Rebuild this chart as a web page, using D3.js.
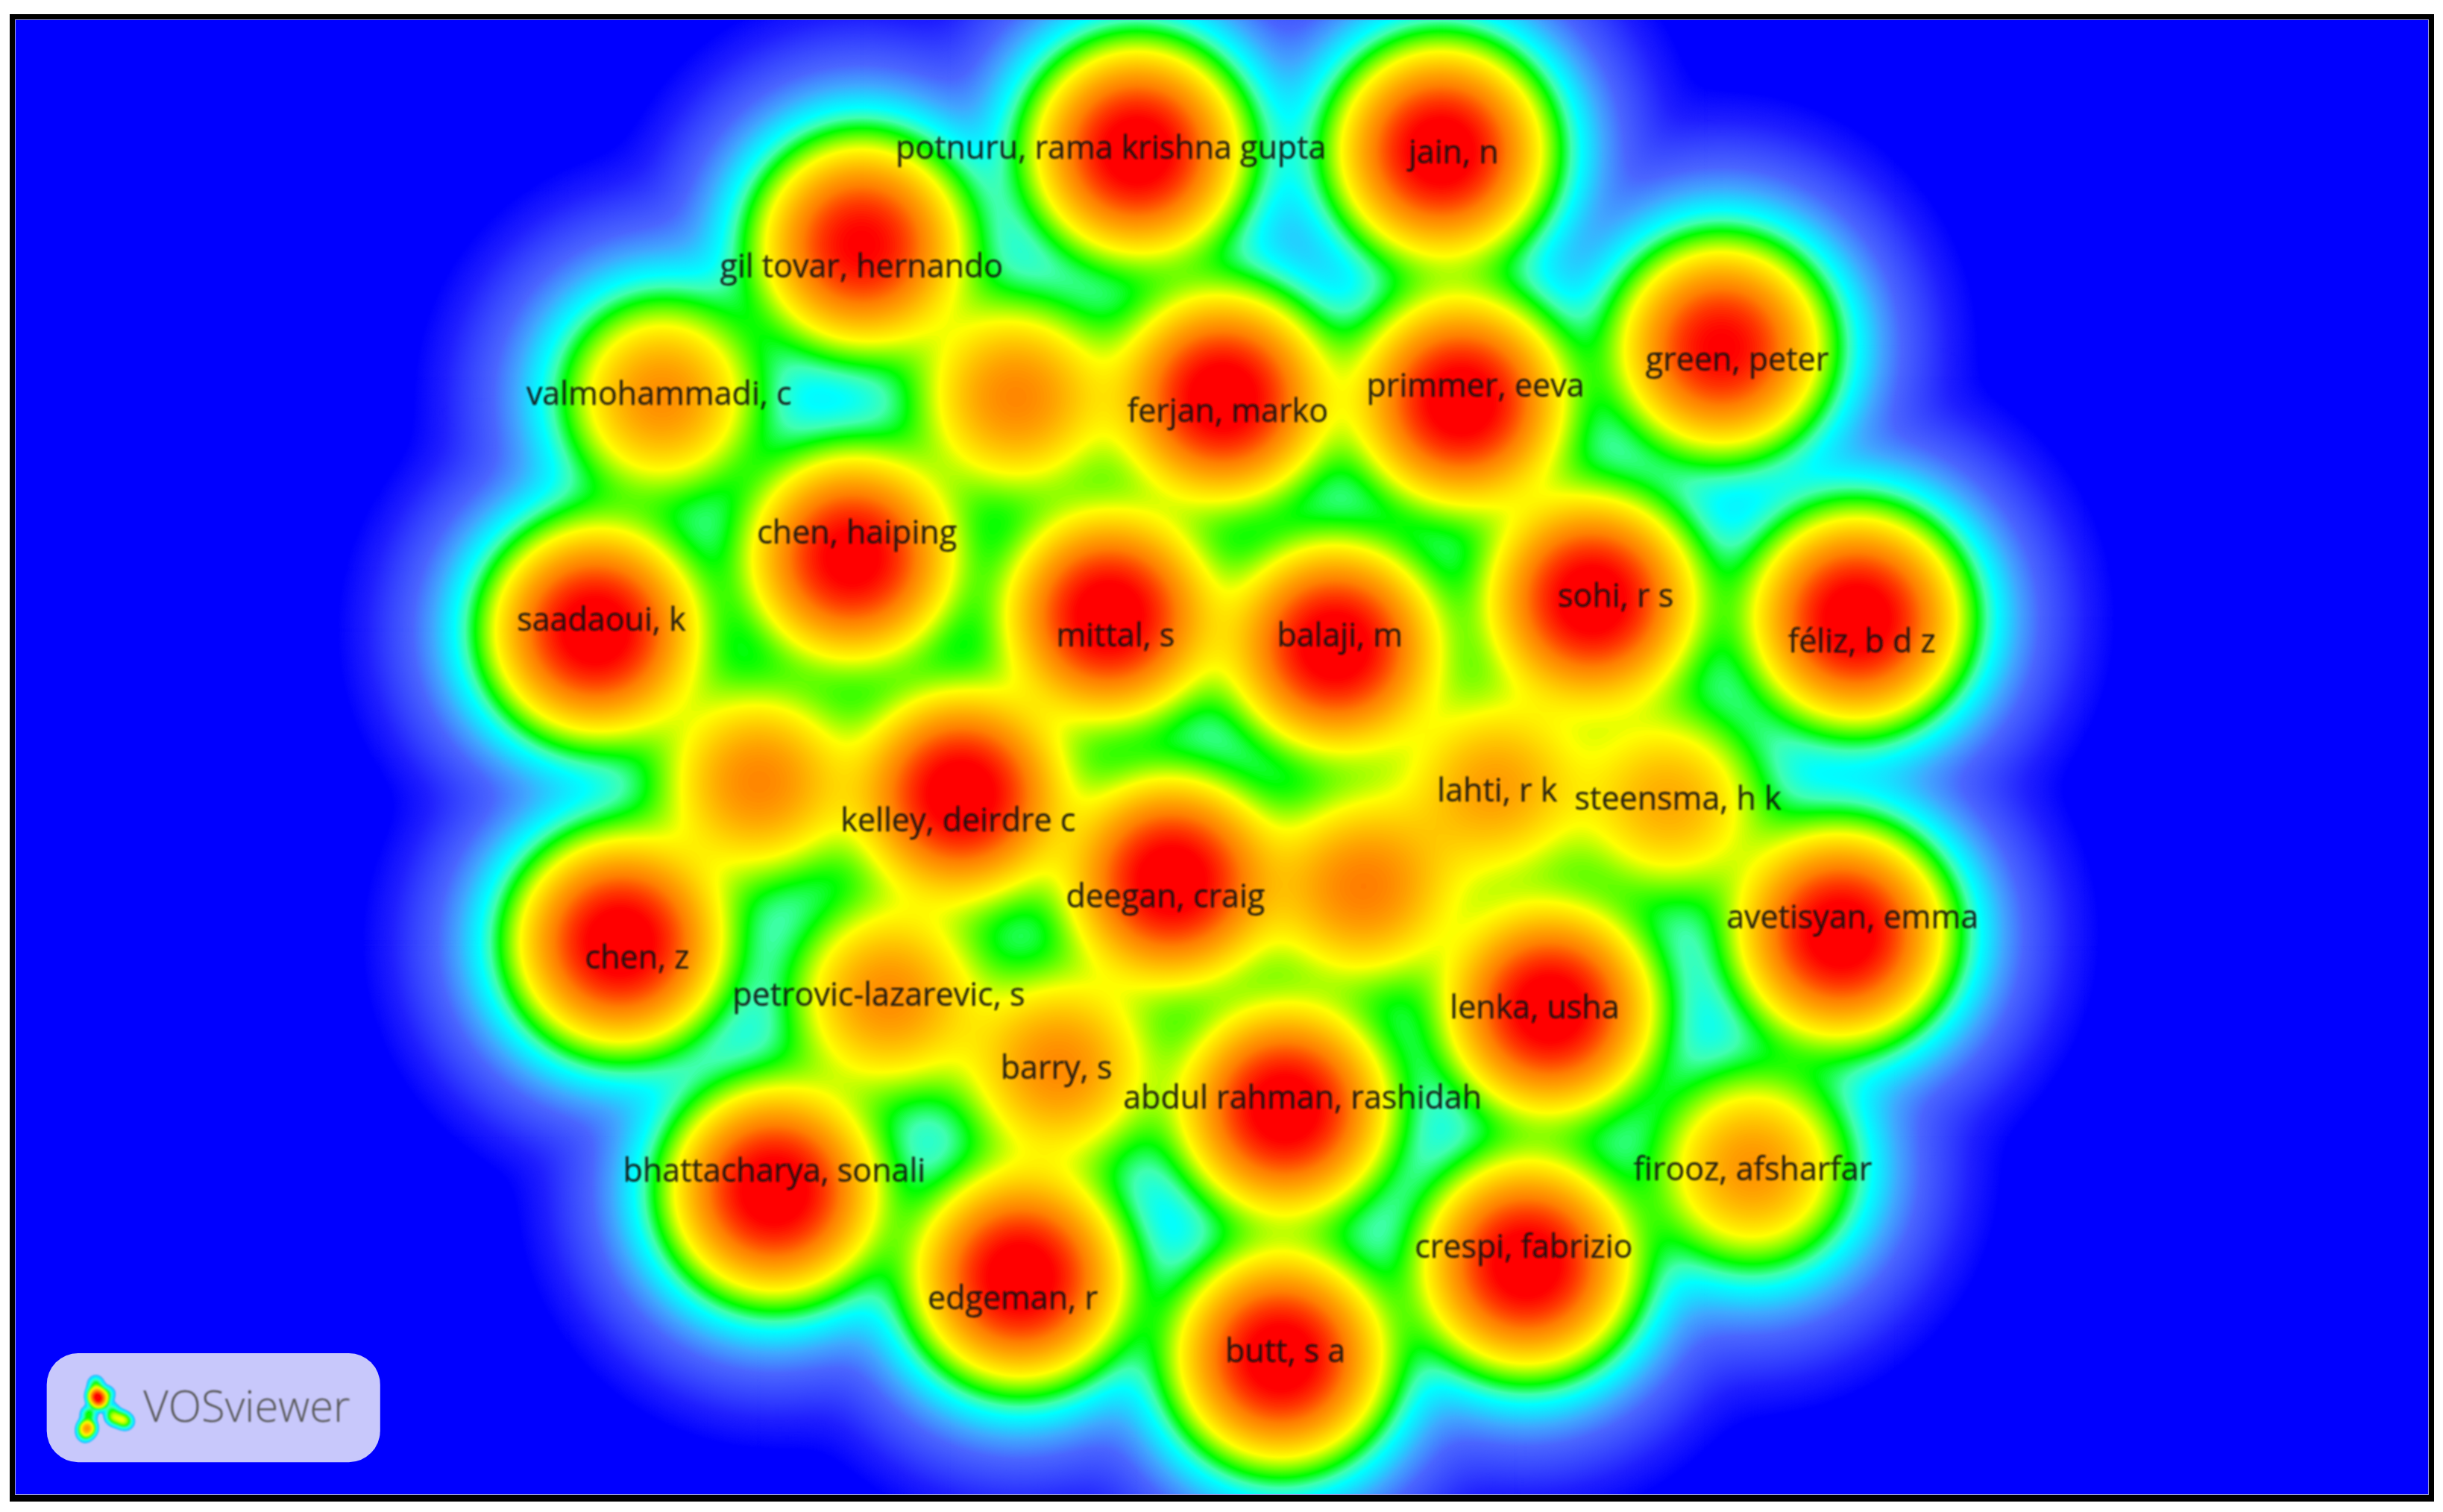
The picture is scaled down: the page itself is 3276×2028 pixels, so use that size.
<!DOCTYPE html>
<html><head><meta charset="utf-8">
<script src="https://cdn.jsdelivr.net/npm/d3@7/dist/d3.min.js"></script>
<style>html,body{margin:0;padding:0;background:#fff}svg{display:block}</style>
</head><body><svg id="c" width="3276" height="2028"></svg>
<script>
// density peaks, in units of a 1568 x 971 map
const peakX=[730,925,553,1105,425,652,785,938,547,1022,1192,382,712,857,487,617,960,1072,752,875,398,1182,570,995,680,825,497,1125,980,655,822];
const peakY=[97,97,157,223,255,255,255,258,358,385,397,405,395,415,502,510,505,515,565,570,605,600,640,648,685,712,765,750,812,820,872];
const peakW=[1,1,.88,.88,.48,.5,1,1,.95,1,1,1,1,1,.5,1,.42,.39,1,.52,1,1,.48,1,.49,1,1,.46,1,1,1];
const labels=["potnuru, rama krishna gupta","jain, n","gil tovar, hernando","green, peter","valmohammadi, c","ferjan, marko","primmer, eeva","chen, haiping","sohi, r s","féliz, b d z","saadaoui, k","mittal, s","balaji, m","kelley, deirdre c","lahti, r k","steensma, h k","deegan, craig","chen, z","avetisyan, emma","petrovic-lazarevic, s","lenka, usha","barry, s","abdul rahman, rashidah","bhattacharya, sonali","firooz, afsharfar","crespi, fabrizio","edgeman, r","butt, s a"];
const labelX=[713,933,553,1115,423,788,947,550,1037,1195,386,716,860,615,961,1077,748,409,1189,564,985,678,836,497,1125,978,650,825];
const labelY=[94,97,170,230,252,263,247,341,382,411,397,407,407,526,507,512,575,614,588,638,646,685,704,751,750,800,833,867];
const stopV=[.00004,.0004,.0067,.0194,.052,.078,.115,.225,.52,.85,4];
const stopC=["#0000ff","#2020ff","#4a66ff","#40a8ff","#00ffff","#40ffb0","#00ff00","#ffff00","#ff8000","#ff0000","#ff0000"];
const logoX=[62,63.5,61.5,69,57,56,54.5,71.5,73,78,81];
const logoY=[896,899,888.5,895,908,917,921,905,910,911.5,913];
const logoW=[.55,.6,.1,.08,.12,.42,.1,.06,.16,.14,.1];
const logoText="VOSviewer";

const W=3276,H=2028,MW=1568,MH=971;
const xS=d3.scaleLinear().domain([0,MW]).range([0,W]);
const yS=d3.scaleLinear().domain([0,MH]).range([0,H]);
const col=d3.scaleLog().domain(stopV).range(stopC).interpolate(d3.interpolateRgb).clamp(true);
const svg=d3.select("#c");
const defs=svg.append("defs");
defs.append("clipPath").attr("id","inner").append("rect").attr("x",20).attr("y",26).attr("width",3237).attr("height",1979);
defs.append("filter").attr("id","soft").append("feGaussianBlur").attr("stdDeviation",.9);

svg.append("rect").attr("width",W).attr("height",H).attr("fill","#fff");
svg.append("rect").attr("x",13).attr("y",19).attr("width",3251).attr("height",1995).attr("fill","#000");

function field(px,py,pw,sigma,x0,y0,x1,y1,step){
  const nx=Math.ceil((x1-x0)/step)+1,ny=Math.ceil((y1-y0)/step)+1,v=new Float64Array(nx*ny);
  px.forEach((cx,i)=>{for(let j=0;j<ny;j++){const dy=y0+j*step-py[i];
    for(let k=0;k<nx;k++){const dx=x0+k*step-cx;v[j*nx+k]+=pw[i]*Math.exp(-(dx*dx+dy*dy)/(2*sigma*sigma));}}});
  return {v,nx,ny};
}
function geo(a,b,n){return d3.range(n).map(i=>a*Math.pow(b/a,i/(n-1)));}
function drawField(g,f,x0,y0,step,thr){
  const path=d3.geoPath(d3.geoTransform({point(x,y){this.stream.point(xS(x0+(x-.5)*step),yS(y0+(y-.5)*step));}}));
  g.selectAll("path").data(d3.contours().size([f.nx,f.ny]).smooth(true).thresholds(thr)(f.v)).join("path")
    .attr("d",path).attr("fill",d=>col(d.value)).attr("stroke",d=>col(d.value)).attr("stroke-width",.6);
}
const plot=svg.append("g").attr("clip-path","url(#inner)");
plot.append("rect").attr("x",0).attr("y",0).attr("width",W).attr("height",H).attr("fill","#0000ff");
drawField(plot.append("g"),field(peakX,peakY,peakW,37,0,0,MW,MH,2),0,0,2,geo(.00005,1.1,440));
// thin light line just inside the frame
svg.append("rect").attr("x",20.5).attr("y",26.5).attr("width",3236).attr("height",1978).attr("fill","none").attr("stroke","#9a9ae6").attr("stroke-width",1);

// logo badge
svg.append("rect").attr("x",xS(30)).attr("y",yS(869)).attr("width",xS(214)).attr("height",yS(70)).attr("rx",42).attr("fill","#c8c8fb");
drawField(svg.append("g").attr("filter","url(#soft)"),field(logoX,logoY,logoW,3,40,875,95,935,.5),40,875,.5,geo(.02,1.1,110));
svg.append("text").attr("x",xS(92)).attr("y",yS(913)).attr("font-family","Open Sans").attr("font-size",58).attr("font-weight",300).attr("fill","#555").attr("filter","url(#soft)").text(logoText);

// labels
svg.append("g").attr("filter","url(#soft)").selectAll("text").data(labels).join("text")
  .attr("x",(d,i)=>xS(labelX[i])).attr("y",(d,i)=>yS(labelY[i])).attr("text-anchor","middle").attr("dominant-baseline","central")
  .attr("font-family","Open Sans").attr("font-size",43).attr("fill","#111").attr("fill-opacity",.88).attr("stroke","#111").attr("stroke-opacity",.5).attr("stroke-width",.6).text(d=>d);
</script></body></html>
